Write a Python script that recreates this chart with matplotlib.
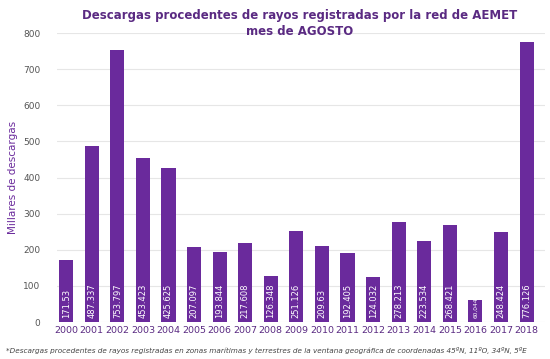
import numpy as np
import matplotlib.pyplot as plt

# Datos: miles de descargas en agosto
years = ['2000', '2001', '2002', '2003', '2004', '2005', '2006', '2007', '2008', '2009',
         '2010', '2011', '2012', '2013', '2014', '2015', '2016', '2017', '2018']
values = [171.53, 487.337, 753.797, 453.423, 425.625, 207.097, 193.844, 217.608, 126.348,
          251.126, 209.63, 192.405, 124.032, 278.213, 223.534, 268.421, 60.044, 248.424, 776.126]
labels = ['171.53', '487.337', '753.797', '453.423', '425.625', '207.097', '193.844', '217.608',
          '126.348', '251.126', '209.63', '192.405', '124.032', '278.213', '223.534', '268.421',
          '60,044', '248.424', '776.126']

purple = '#6a2a9c'
title_col = '#5a2a82'

fig = plt.figure(figsize=(5.5, 3.59), dpi=100)
ax = fig.add_axes([0.104, 0.103, 0.886, 0.805])

x = np.arange(len(years))
ax.bar(x, values, width=0.55, color=purple, zorder=3)

for xi, v, lab in zip(x, values, labels):
    small = v < 100
    ax.text(xi, 11, lab, rotation=90, ha='center', va='bottom', color='white',
            fontsize=4.2 if small else 6, zorder=4)

ax.set_ylim(0, 800)
ax.set_xlim(-0.35, len(years) - 0.3)
ax.set_yticks(range(0, 801, 100))
ax.set_xticks(x)
ax.set_xticklabels(years)
ax.tick_params(axis='x', length=0, labelsize=6.8, colors='#5a2a82', pad=3)
ax.tick_params(axis='y', length=0, labelsize=6.5, colors='#555555', pad=12)
ax.grid(axis='y', color='#e6e6e6', linewidth=0.8, zorder=0)
for s in ax.spines.values():
    s.set_visible(False)
ax.set_ylabel('Millares de descargas', fontsize=7.5, color='#6a2a9c', labelpad=4)

fig.text(0.545, 0.975, 'Descargas procedentes de rayos registradas por la red de AEMET',
         ha='center', va='top', fontsize=8.5, color=title_col, fontweight='bold')
fig.text(0.545, 0.93, 'mes de AGOSTO', ha='center', va='top', fontsize=8.5,
         color=title_col, fontweight='bold')
fig.text(0.01, 0.025, '*Descargas procedentes de rayos registradas en zonas marítimas y terrestres '
         'de la ventana geográfica de coordenadas 45ºN, 11ºO, 34ºN, 5ºE',
         ha='left', va='center', fontsize=5.25, style='italic', color='#444444')

fig.savefig('out.png', dpi=100)
